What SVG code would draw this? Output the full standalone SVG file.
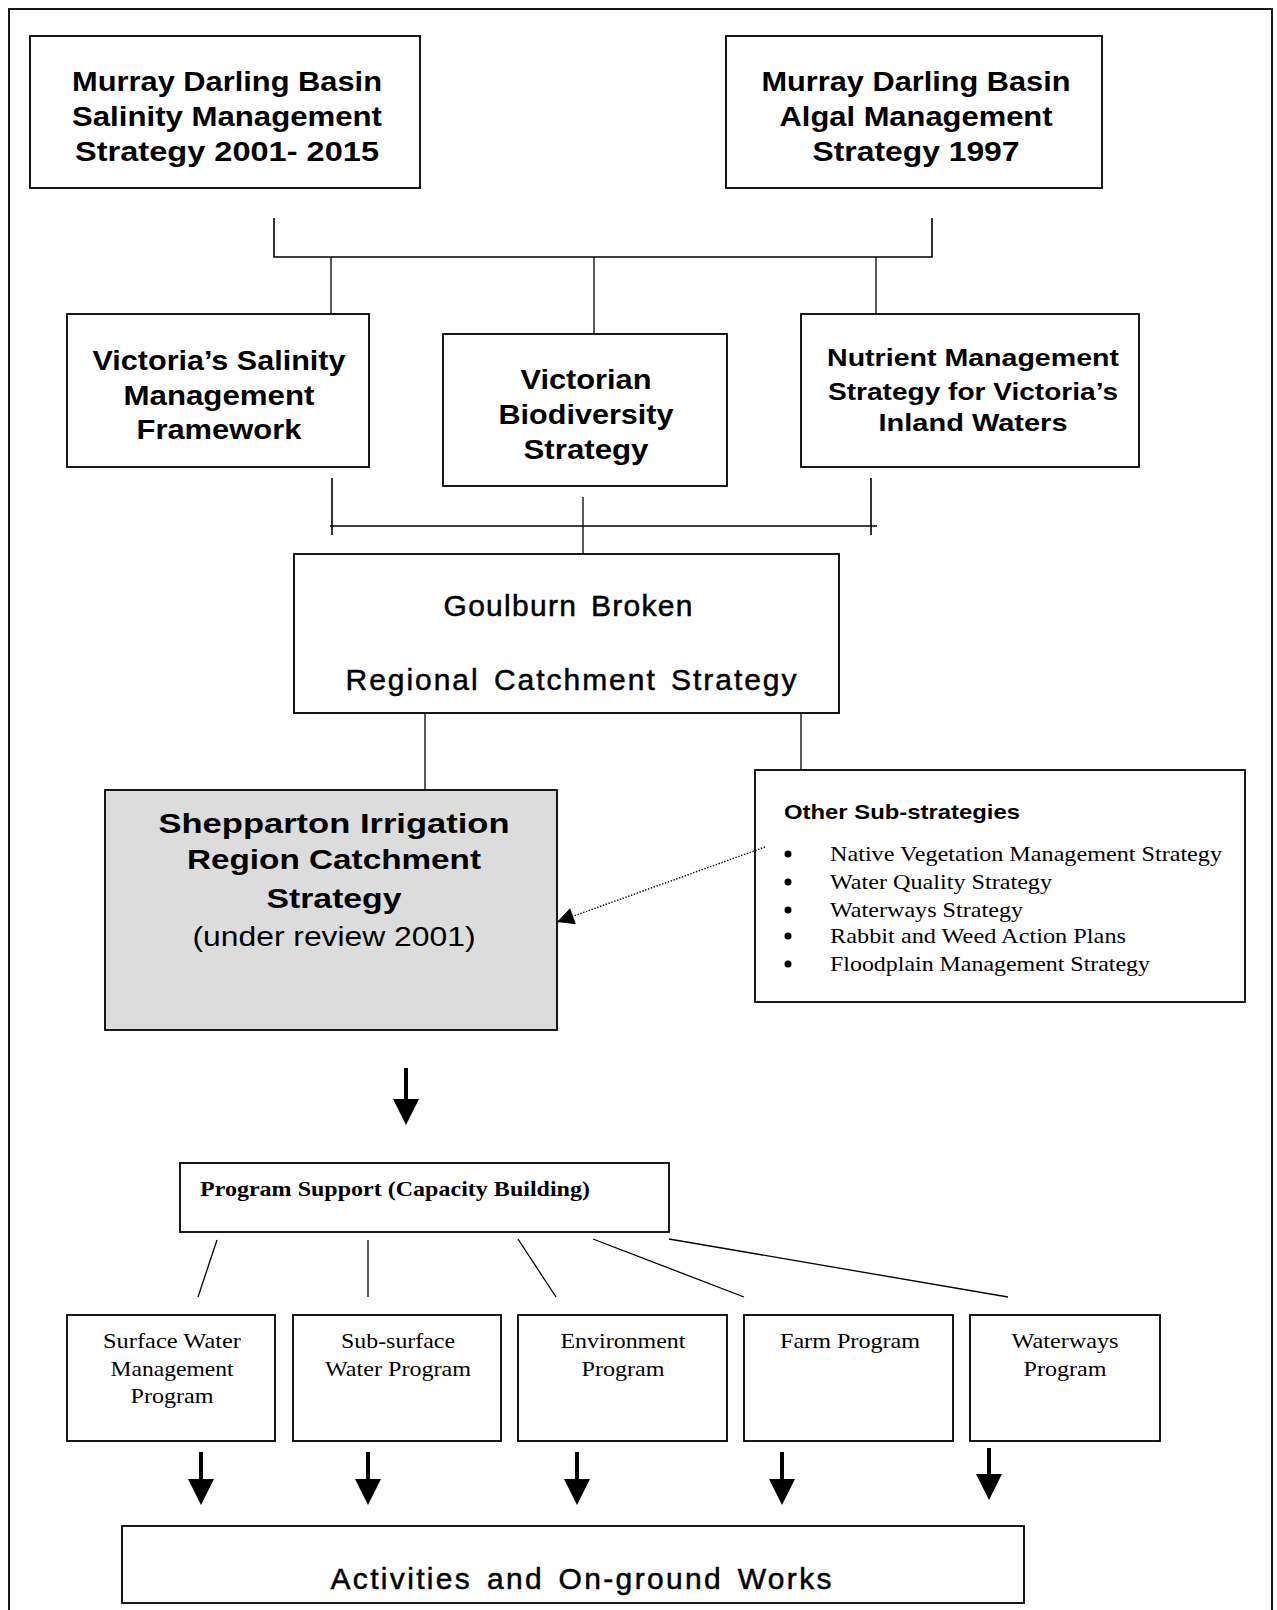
<svg xmlns="http://www.w3.org/2000/svg" width="1277" height="1610" viewBox="0 0 1277 1610">
<style>
.box{fill:#fff;stroke:#000;stroke-width:1.8}
.grey{fill:#dcdcdc;stroke:#000;stroke-width:1.8}
.ln{fill:none;stroke:#000;stroke-width:1.6}
.thin{fill:none;stroke:#000;stroke-width:1.3}
.thick{fill:none;stroke:#000;stroke-width:4}
.dot{fill:none;stroke:#000;stroke-width:1.4;stroke-dasharray:1.4 1.6}
.hb{font-family:"Liberation Sans",Arial,sans-serif;font-weight:bold;font-size:28px;text-anchor:middle;fill:#000}
.hn{font-family:"Liberation Sans",Arial,sans-serif;font-size:28px;text-anchor:middle;fill:#000}
.hm{font-family:"Liberation Sans",Arial,sans-serif;font-size:30px;text-anchor:middle;fill:#000;stroke:#000;stroke-width:0.5}
.hs{font-family:"Liberation Sans",Arial,sans-serif;font-weight:bold;font-size:24px;text-anchor:middle;fill:#000}
.ab{font-family:"Liberation Sans",Arial,sans-serif;font-weight:bold;font-size:21px;fill:#000}
.tm{font-family:"Liberation Serif","Times New Roman",serif;font-size:22px;fill:#000}
.tc{font-family:"Liberation Serif","Times New Roman",serif;font-size:22px;text-anchor:middle;fill:#000}
.tb{font-family:"Liberation Serif","Times New Roman",serif;font-weight:bold;font-size:22px;fill:#000}
</style>
<defs>
<marker id="big" viewBox="0 0 10 10" refX="0" refY="5" markerUnits="userSpaceOnUse" markerWidth="32" markerHeight="26" orient="auto">
<path d="M0,0 L10,5 L0,10 z" fill="#000"/>
</marker>
<marker id="small" viewBox="0 0 10 10" refX="10" refY="5" markerUnits="userSpaceOnUse" markerWidth="21" markerHeight="17" orient="auto">
<path d="M0,0 L10,5 L0,10 z" fill="#000"/>
</marker>
</defs>
<rect x="9" y="9" width="1263" height="1620" fill="none" stroke="#000" stroke-width="1.8"/>

<g id="mdb-salinity">
<rect class="box" x="30" y="36" width="390" height="152"/>
<text class="hb" x="227" y="91" textLength="310" lengthAdjust="spacingAndGlyphs">Murray Darling Basin</text>
<text class="hb" x="227" y="126" textLength="310" lengthAdjust="spacingAndGlyphs">Salinity Management</text>
<text class="hb" x="227" y="161" textLength="304" lengthAdjust="spacingAndGlyphs">Strategy 2001- 2015</text>
</g>
<g id="mdb-algal">
<rect class="box" x="726" y="36" width="376" height="152"/>
<text class="hb" x="916" y="91" textLength="309" lengthAdjust="spacingAndGlyphs">Murray Darling Basin</text>
<text class="hb" x="916" y="126" textLength="273" lengthAdjust="spacingAndGlyphs">Algal Management</text>
<text class="hb" x="916" y="161" textLength="207" lengthAdjust="spacingAndGlyphs">Strategy 1997</text>
</g>
<g id="vic-salinity">
<rect class="box" x="67" y="314" width="302" height="153"/>
<text class="hb" x="219" y="370" textLength="253" lengthAdjust="spacingAndGlyphs">Victoria’s Salinity</text>
<text class="hb" x="219" y="405" textLength="191" lengthAdjust="spacingAndGlyphs">Management</text>
<text class="hb" x="219" y="439" textLength="165" lengthAdjust="spacingAndGlyphs">Framework</text>
</g>
<g id="vic-biodiversity">
<rect class="box" x="443" y="334" width="284" height="152"/>
<text class="hb" x="586" y="389" textLength="131" lengthAdjust="spacingAndGlyphs">Victorian</text>
<text class="hb" x="586" y="424" textLength="175" lengthAdjust="spacingAndGlyphs">Biodiversity</text>
<text class="hb" x="586" y="459" textLength="125" lengthAdjust="spacingAndGlyphs">Strategy</text>
</g>
<g id="nutrient">
<rect class="box" x="801" y="314" width="338" height="153"/>
<text class="hs" x="973" y="366" textLength="292" lengthAdjust="spacingAndGlyphs">Nutrient Management</text>
<text class="hs" x="973" y="400" textLength="290" lengthAdjust="spacingAndGlyphs">Strategy for Victoria’s</text>
<text class="hs" x="973" y="431" textLength="189" lengthAdjust="spacingAndGlyphs">Inland Waters</text>
</g>
<g id="goulburn">
<rect class="box" x="294" y="554" width="545" height="159"/>
<text class="hm" x="568" y="616" word-spacing="4" textLength="249" lengthAdjust="spacing">Goulburn Broken</text>
<text class="hm" x="571" y="690" word-spacing="4" textLength="451" lengthAdjust="spacing">Regional Catchment Strategy</text>
</g>
<g id="shepparton">
<rect class="grey" x="105" y="790" width="452" height="240"/>
<text class="hb" x="334" y="833" font-size="30" textLength="351" lengthAdjust="spacingAndGlyphs">Shepparton Irrigation</text>
<text class="hb" x="334" y="869" font-size="30" textLength="294" lengthAdjust="spacingAndGlyphs">Region Catchment</text>
<text class="hb" x="334" y="908" font-size="30" textLength="135" lengthAdjust="spacingAndGlyphs">Strategy</text>
<text class="hn" x="334" y="946" textLength="283" lengthAdjust="spacingAndGlyphs">(under review 2001)</text>
</g>
<g id="other-substrategies">
<rect class="box" x="755" y="770" width="490" height="232"/>
<text class="ab" x="784" y="819" textLength="236" lengthAdjust="spacingAndGlyphs">Other Sub-strategies</text>
<circle cx="788" cy="854" r="3.5"/>
<circle cx="788" cy="882" r="3.5"/>
<circle cx="788" cy="910" r="3.5"/>
<circle cx="788" cy="936" r="3.5"/>
<circle cx="788" cy="964" r="3.5"/>
<text class="tm" x="830" y="861" textLength="392" lengthAdjust="spacingAndGlyphs">Native Vegetation Management Strategy</text>
<text class="tm" x="830" y="889" textLength="222" lengthAdjust="spacingAndGlyphs">Water Quality Strategy</text>
<text class="tm" x="830" y="917" textLength="193" lengthAdjust="spacingAndGlyphs">Waterways Strategy</text>
<text class="tm" x="830" y="943" textLength="296" lengthAdjust="spacingAndGlyphs">Rabbit and Weed Action Plans</text>
<text class="tm" x="830" y="971" textLength="320" lengthAdjust="spacingAndGlyphs">Floodplain Management Strategy</text>
</g>
<g id="program-support">
<rect class="box" x="180" y="1163" width="489" height="69"/>
<text class="tb" x="200" y="1196" textLength="390" lengthAdjust="spacingAndGlyphs">Program Support (Capacity Building)</text>
</g>
<g id="surface-water">
<rect class="box" x="67" y="1315" width="208" height="126"/>
<text class="tc" x="172" y="1348" textLength="138" lengthAdjust="spacingAndGlyphs">Surface Water</text>
<text class="tc" x="172" y="1376" textLength="123" lengthAdjust="spacingAndGlyphs">Management</text>
<text class="tc" x="172" y="1403" textLength="83" lengthAdjust="spacingAndGlyphs">Program</text>
</g>
<g id="sub-surface">
<rect class="box" x="293" y="1315" width="208" height="126"/>
<text class="tc" x="398" y="1348" textLength="114" lengthAdjust="spacingAndGlyphs">Sub-surface</text>
<text class="tc" x="398" y="1376" textLength="146" lengthAdjust="spacingAndGlyphs">Water Program</text>
</g>
<g id="environment">
<rect class="box" x="518" y="1315" width="209" height="126"/>
<text class="tc" x="623" y="1348" textLength="125" lengthAdjust="spacingAndGlyphs">Environment</text>
<text class="tc" x="623" y="1376" textLength="83" lengthAdjust="spacingAndGlyphs">Program</text>
</g>
<g id="farm">
<rect class="box" x="744" y="1315" width="209" height="126"/>
<text class="tc" x="850" y="1348" textLength="140" lengthAdjust="spacingAndGlyphs">Farm Program</text>
</g>
<g id="waterways">
<rect class="box" x="970" y="1315" width="190" height="126"/>
<text class="tc" x="1065" y="1348" textLength="107" lengthAdjust="spacingAndGlyphs">Waterways</text>
<text class="tc" x="1065" y="1376" textLength="83" lengthAdjust="spacingAndGlyphs">Program</text>
</g>
<g id="activities">
<rect class="box" x="122" y="1526" width="902" height="77"/>
<text class="hm" x="581" y="1589" font-size="32" stroke-width="0.9" word-spacing="4" textLength="501" lengthAdjust="spacing">Activities and On-ground Works</text>
</g>

<g id="connectors">
<polyline class="ln" points="274,218 274,257 932,257 932,218"/>
<line class="thin" x1="331" y1="257" x2="331" y2="314"/>
<line class="thin" x1="594" y1="257" x2="594" y2="334"/>
<line class="thin" x1="876" y1="257" x2="876" y2="314"/>
<line class="ln" x1="332" y1="478" x2="332" y2="535"/>
<line class="ln" x1="871" y1="478" x2="871" y2="535"/>
<line class="ln" x1="330" y1="526" x2="877" y2="526"/>
<line class="thin" x1="583" y1="497" x2="583" y2="554"/>
<line class="thin" x1="425" y1="713" x2="425" y2="790"/>
<line class="thin" x1="801" y1="713" x2="801" y2="770"/>
<line class="dot" x1="765" y1="847" x2="557" y2="922" marker-end="url(#small)"/>
<line class="thick" x1="406" y1="1068" x2="406" y2="1099" marker-end="url(#big)"/>
<line class="thin" x1="217" y1="1240" x2="198" y2="1297"/>
<line class="thin" x1="368" y1="1240" x2="368" y2="1297"/>
<line class="thin" x1="518" y1="1239" x2="556" y2="1297"/>
<line class="thin" x1="593" y1="1239" x2="744" y2="1297"/>
<line class="thin" x1="669" y1="1239" x2="1008" y2="1297"/>
<line class="thick" x1="201" y1="1452" x2="201" y2="1479" marker-end="url(#big)"/>
<line class="thick" x1="368" y1="1452" x2="368" y2="1479" marker-end="url(#big)"/>
<line class="thick" x1="577" y1="1452" x2="577" y2="1479" marker-end="url(#big)"/>
<line class="thick" x1="782" y1="1452" x2="782" y2="1479" marker-end="url(#big)"/>
<line class="thick" x1="989" y1="1448" x2="989" y2="1474" marker-end="url(#big)"/>
</g>
</svg>
